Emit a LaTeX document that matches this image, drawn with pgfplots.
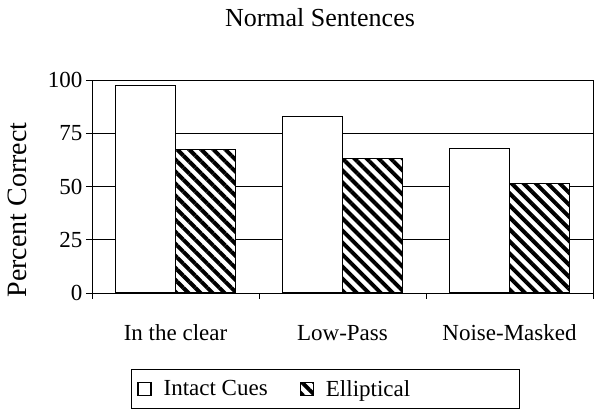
\documentclass[border=0pt]{standalone}
\usepackage{pgfplots}
\pgfplotsset{compat=1.18}
\usetikzlibrary{patterns.meta}
\usepackage{fontspec}
\setmainfont{Liberation Serif}

\begin{document}
\begin{tikzpicture}
\useasboundingbox (0,0) rectangle (600pt,417pt);
\begin{axis}[
    at={(92pt,124pt)}, anchor=south west,
    width=501pt, height=213pt, scale only axis,
    ybar=0pt, bar width=0.36,
    xmin=-0.5, xmax=2.5, ymin=0, ymax=100,
    axis line style={line width=0.9pt},
    xtick={-0.5,0.5,1.5,2.5}, xticklabels={},
    extra x ticks={0,1,2},
    extra x tick labels={In the clear,Low-Pass,Noise-Masked},
    extra x tick style={major tick length=0pt, grid=none,
      xticklabel style={anchor=base, yshift=-48pt}},
    ytick={0,25,50,75,100},
    ymajorgrids,
    major grid style={black, line width=0.9pt},
    tick align=outside, tick pos=left,
    major tick length=6pt,
    tick style={black, line width=0.9pt},
    /pgf/number format/assume math mode=true,
    ticklabel style={font=\fontsize{23}{23}\selectfont},
    title={Normal Sentences},
    title style={at={(axis description cs:0.455,1.222)}, anchor=base,
      font=\fontsize{26}{26}\selectfont},
    ylabel={Percent Correct},
    ylabel style={at={(axis description cs:-0.148,0.39)}, anchor=center,
      font=\fontsize{28}{28}\selectfont},
    legend columns=2,
    legend style={at={(axis description cs:0.0778,-0.451)}, anchor=west,
      draw=black, line width=0.9pt, font=\fontsize{23}{23}\selectfont,
      /tikz/every odd column/.append style={column sep=10pt},
      /tikz/every even column/.append style={column sep=30pt},
      inner xsep=6pt, inner ysep=9pt},
    legend image code/.code={
      \draw[#1, line width=1.2pt] (0pt,-6.5pt) rectangle (13pt,6.5pt);
    },
]
% intact cues
\addplot[fill=white, draw=black, line width=1.3pt]
  coordinates {(0,97.5) (1,83) (2,68)};
\addlegendentry{Intact Cues}

% elliptical
\addplot[fill=white, draw=black, line width=1.3pt,
  postaction={pattern={Lines[angle=-45,distance=8.5pt,line width=4pt]}}]
  coordinates {(0,67.5) (1,63) (2,51.5)};
\addlegendentry{\makebox[186pt][l]{Elliptical}}
\end{axis}
\end{tikzpicture}
\end{document}
